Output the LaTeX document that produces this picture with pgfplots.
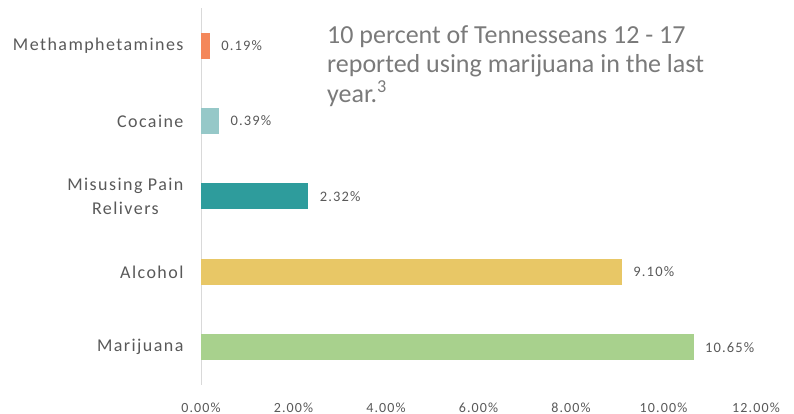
\documentclass[border=0pt]{standalone}
\usepackage{fontspec}
\setmainfont{Carlito}
\newfontfamily\labfont[LetterSpace=8]{Carlito}
\usepackage{pgfplots}
\pgfplotsset{compat=1.18}
\definecolor{cMeth}{HTML}{F4875A}
\definecolor{cCoc}{HTML}{96C8C8}
\definecolor{cPain}{HTML}{2E9C9C}
\definecolor{cAlc}{HTML}{E8C766}
\definecolor{cMar}{HTML}{A8D18D}
\definecolor{labgray}{HTML}{595959}
\definecolor{anngray}{HTML}{7A7A7A}
\definecolor{axgray}{HTML}{D9D9D9}
\begin{document}
\begin{tikzpicture}[x=1pt,y=1pt]
\begin{axis}[
  at={(201pt,29pt)}, anchor=south west,
  scale only axis, width=555pt, height=377pt,
  xbar, bar width=26pt, bar shift=0pt,
  xmin=0, xmax=12, ymin=-0.5, ymax=4.5,
  axis line style={draw=none},
  major tick length=0pt,
  xtick={0,2,4,6,8,10,12},
  xticklabels={0.00\%,2.00\%,4.00\%,6.00\%,8.00\%,10.00\%,12.00\%},
  xticklabel style={font=\labfont\fontsize{14}{16}\selectfont, text=labgray, yshift=-14pt},
  extra x ticks={0}, extra x tick labels={},
  extra x tick style={grid=major, major grid style={draw=axgray, line width=1pt}},
  ytick={0,1,2,3,4},
  yticklabels={Marijuana,Alcohol,{Misusing Pain\\Relivers},Cocaine,Methamphetamines},
  yticklabel style={font=\labfont\fontsize{18}{24}\selectfont, text=labgray, align=center, xshift=-14pt},
  nodes near coords, point meta=explicit symbolic,
  every node near coord/.append style={font=\labfont\fontsize{14.5}{16}\selectfont, text=labgray, anchor=west, xshift=8pt},
  clip=false,
]
\addplot[draw=none, fill=cMar] coordinates {(10.65,0) [10.65\%]};
\addplot[draw=none, fill=cAlc] coordinates {(9.10,1) [9.10\%]};
\addplot[draw=none, fill=cPain] coordinates {(2.32,2) [2.32\%]};
\addplot[draw=none, fill=cCoc] coordinates {(0.39,3) [0.39\%]};
\addplot[draw=none, fill=cMeth] coordinates {(0.19,4) [0.19\%]};
\end{axis}
\node[anchor=north west, align=left, text=anngray, font=\fontsize{26}{29.5}\selectfont, inner sep=0pt] at (327,389) {10 percent of Tennesseans 12 - 17\\reported using marijuana in the last\\year.\textsuperscript{3}};
\pgfresetboundingbox
\path[use as bounding box] (0,0) rectangle (794,414);
\end{tikzpicture}
\end{document}
